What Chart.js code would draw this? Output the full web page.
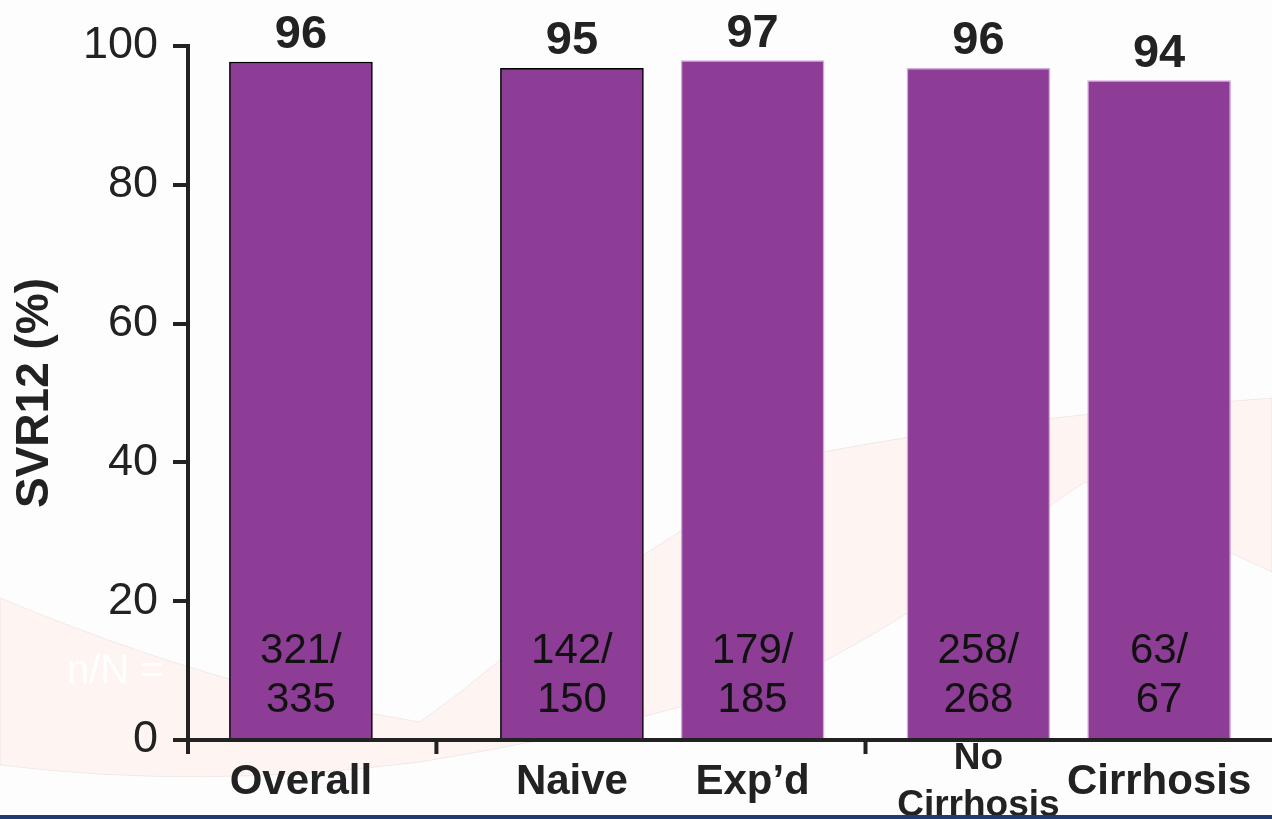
<!DOCTYPE html>
<html>
<head>
<meta charset="utf-8">
<script src="https://cdn.jsdelivr.net/npm/chart.js@4"></script>
<style>
  html, body { margin: 0; padding: 0; background: #fdfdfd; overflow: hidden; }
  #wrap { position: relative; width: 1272px; height: 819px; }
  canvas { display: block; }
</style>
</head>
<body>
<div id="wrap"><canvas id="c" width="1272" height="819"></canvas></div>
<script>
// ---- data ----
const categories = ['Overall', 'Naive', 'Exp\u2019d', ['No', 'Cirrhosis'], 'Cirrhosis'];
const svr12 = [97.7, 96.8, 97.9, 96.8, 95.0];          // bar heights as drawn
const valueLabels = ['96', '95', '97', '96', '94'];     // printed percentages
const nOverN = [['321/', '335'], ['142/', '150'], ['179/', '185'], ['258/', '268'], ['63/', '67']];
const yTicks = [0, 20, 40, 60, 80, 100];
const groupEnds = [0, 2];   // index of last bar in each group before a separator

// ---- layout (category slots, spacers between groups) ----
const slotCount = 24;
const slotIndex = [2, 8, 12, 17, 21];

const FONT = "'Liberation Sans', Arial, Helvetica, sans-serif";
const PURPLE = '#8e3d97';
const INK = '#222222';

const labels = Array.from({ length: slotCount }, () => '');
const values = Array.from({ length: slotCount }, () => null);
const borders = Array.from({ length: slotCount }, () => 'rgba(0,0,0,0)');
slotIndex.forEach((s, i) => {
  labels[s] = categories[i];
  values[s] = svr12[i];
  borders[s] = i < 2 ? '#000000' : 'rgba(200,150,210,0.8)';
});

const decorPlugin = {
  id: 'decor',
  beforeDraw(chart) {
    const ctx = chart.ctx;
    ctx.save();
    ctx.fillStyle = '#fef4f2';
    ctx.strokeStyle = 'rgba(0,0,0,0.06)';
    ctx.lineWidth = 1;
    ctx.beginPath();
    ctx.moveTo(0, 598);
    ctx.quadraticCurveTo(220, 690, 420, 722);
    ctx.lineTo(463, 690);
    ctx.quadraticCurveTo(650, 535, 823, 452);
    ctx.quadraticCurveTo(1000, 418, 1272, 398);
    ctx.lineTo(1272, 572);
    ctx.quadraticCurveTo(1180, 530, 1085, 482);
    ctx.lineTo(1055, 502);
    ctx.quadraticCurveTo(950, 595, 823, 662);
    ctx.quadraticCurveTo(650, 725, 420, 762);
    ctx.quadraticCurveTo(200, 790, 0, 765);
    ctx.closePath();
    ctx.fill();
    ctx.stroke();
    // faint "n/N =" label
    ctx.fillStyle = '#ffffff';
    ctx.font = '40px ' + FONT;
    ctx.textAlign = 'left';
    ctx.textBaseline = 'alphabetic';
    ctx.fillText('n/N =', 67, 683);
    ctx.restore();
  },
  afterDraw(chart) {
    const ctx = chart.ctx;
    const x = chart.scales.x;
    const area = chart.chartArea;
    const meta = chart.getDatasetMeta(0);
    ctx.save();
    // value labels and n/N inside bars
    slotIndex.forEach((s, i) => {
      const bar = meta.data[s];
      if (!bar) return;
      ctx.textAlign = 'center';
      ctx.textBaseline = 'alphabetic';
      ctx.fillStyle = INK;
      ctx.font = 'bold 47px ' + FONT;
      ctx.fillText(valueLabels[i], bar.x, bar.y - 14);
      ctx.fillStyle = '#111111';
      ctx.font = '42px ' + FONT;
      const base = chart.scales.y.getPixelForValue(0);
      ctx.fillText(nOverN[i][0], bar.x, base - 77);
      ctx.fillText(nOverN[i][1], bar.x, base - 28);
    });
    // axis extension and group separators
    ctx.fillStyle = INK;
    ctx.fillRect(area.left - 2, area.bottom, 4, 14);
    groupEnds.forEach(g => {
      const a = x.getPixelForValue(slotIndex[g]);
      const b = x.getPixelForValue(slotIndex[g + 1]);
      const m = (a + b) / 2;
      ctx.fillRect(m - 2, area.bottom, 4, 14);
    });
    // bottom slide band
    ctx.fillStyle = '#203b6d';
    ctx.fillRect(0, 815, chart.width, 4);
    ctx.restore();
  }
};

new Chart(document.getElementById('c'), {
  type: 'bar',
  data: {
    labels: labels,
    datasets: [{
      data: values,
      backgroundColor: PURPLE,
      borderColor: borders,
      borderWidth: 1.5,
      barThickness: 143
    }]
  },
  options: {
    responsive: false,
    animation: false,
    devicePixelRatio: 1,
    layout: { padding: { top: 46, right: 0, bottom: 0, left: 0 } },
    plugins: { legend: { display: false }, tooltip: { enabled: false } },
    scales: {
      x: {
        type: 'category',
        offset: true,
        grid: { display: false, drawTicks: false },
        border: { display: true, color: INK, width: 4 },
        ticks: {
          autoSkip: false,
          maxRotation: 0,
          minRotation: 0,
          crossAlign: 'center',
          padding: 19,
          color: INK,
          font: c => (c.index === slotIndex[3])
            ? { family: FONT, size: 37, weight: 'bold', lineHeight: 47 / 37 }
            : { family: FONT, size: 42, weight: 'bold', lineHeight: 47 / 42 }
        },
        afterFit: s => { s.height = 79; }
      },
      y: {
        min: 0,
        max: 100,
        afterBuildTicks: s => { s.ticks = yTicks.map(v => ({ value: v })); },
        grid: { drawOnChartArea: false, drawTicks: true, tickLength: 15, color: INK, lineWidth: 4 },
        border: { display: true, color: INK, width: 4 },
        ticks: {
          padding: 15,
          color: INK,
          font: { family: FONT, size: 45 }
        },
        title: {
          display: true,
          text: 'SVR12 (%)',
          color: INK,
          font: { family: FONT, size: 46, weight: 'bold', lineHeight: 1.2 },
          padding: { top: 8, bottom: 0 }
        },
        afterFit: s => { s.width = 188; }
      }
    }
  },
  plugins: [decorPlugin]
});
</script>
</body>
</html>
